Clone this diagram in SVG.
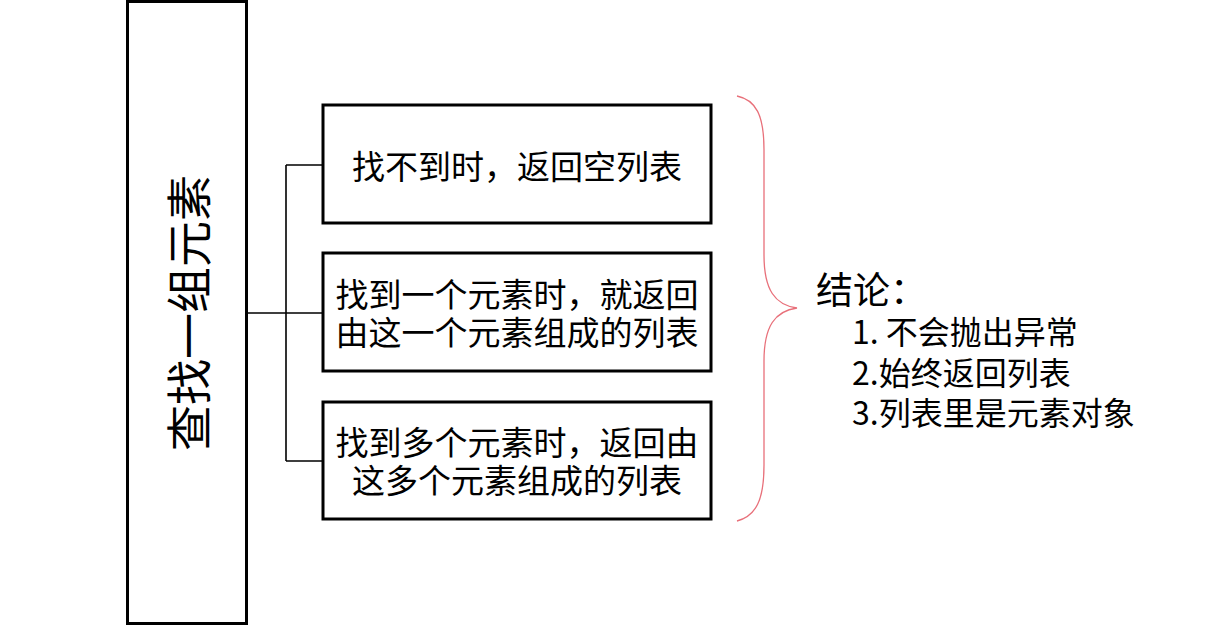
<svg xmlns="http://www.w3.org/2000/svg" width="1216" height="626" viewBox="0 0 1216 626">
<style>
.box{fill:#fff;stroke:#000;stroke-width:3}
.conn{fill:none;stroke:#000;stroke-width:1.6}
.t{font-family:"Noto Sans CJK SC","Liberation Sans",sans-serif;fill:#000;dominant-baseline:central}
.bt{font-size:33px;text-anchor:middle}
.lt{font-size:32px}
</style>
<rect width="1216" height="626" fill="#fff"/>
<g id="connectors">
<path class="conn" d="M246 313H286M286 165V461M286 165H323M286 313H323M286 461H323"/>
</g>
<g id="root">
<rect class="box" x="127.5" y="1.5" width="119" height="622"/>
<text class="t" font-size="46" text-anchor="middle" transform="translate(186 313) rotate(-90)">查找一组元素</text>
</g>
<g id="n1">
<rect class="box" x="323" y="105" width="388" height="118"/>
<text class="t bt" x="517" y="165">找不到时，返回空列表</text>
</g>
<g id="n2">
<rect class="box" x="323" y="253" width="388" height="118"/>
<text class="t bt"><tspan x="517" y="293">找到一个元素时，就返回</tspan><tspan x="517" y="331">由这一个元素组成的列表</tspan></text>
</g>
<g id="n3">
<rect class="box" x="323" y="402" width="388" height="117"/>
<text class="t bt"><tspan x="517" y="441">找到多个元素时，返回由</tspan><tspan x="517" y="479">这多个元素组成的列表</tspan></text>
</g>
<g id="brace">
<path d="M737 96C756 100 764 115 764 150V255C764 290 775 305 797 308C775 311 764 326 764 361V465C764 500 756 516 737 521" fill="none" stroke="#E8707A" stroke-width="1.3"/>
</g>
<g id="conclusion">
<text class="t"><tspan font-size="37" x="816" y="288">结论：</tspan><tspan class="lt" x="852" y="330">1. 不会抛出异常</tspan><tspan class="lt" x="852" y="371">2.始终返回列表</tspan><tspan class="lt" x="852" y="411">3.列表里是元素对象</tspan></text>
</g>
</svg>
